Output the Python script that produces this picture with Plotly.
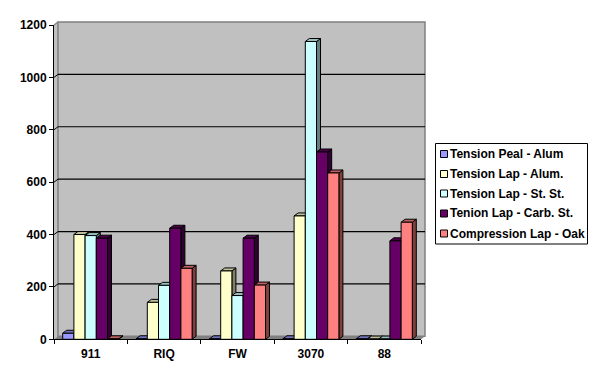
import plotly.graph_objects as go

categories = ["911", "RIQ", "FW", "3070", "88"]
series_names = ["Tension Peal - Alum", "Tension Lap - Alum.", "Tension Lap - St. St.",
                "Tenion Lap - Carb. St.", "Compression Lap - Oak"]
peal_alum = [23, 2, 2, 2, 2]
lap_alum = [400, 141, 261, 471, 1]
lap_stst = [396, 206, 167, 1137, 1]
lap_carb = [386, 424, 386, 715, 376]
comp_oak = [2, 271, 207, 635, 447]
series_values = [peal_alum, lap_alum, lap_stst, lap_carb, comp_oak]
front_colors = ["#9999FF", "#FFFFCC", "#CCFFFF", "#660066", "#FF8080"]
top_colors = ["#7373BF", "#BFBF99", "#99BFBF", "#4D004D", "#BF6060"]
side_colors = ["#4D4D80", "#808066", "#668080", "#330033", "#804040"]
tick_values = [0, 200, 400, 600, 800, 1000, 1200]

FONT = "Liberation Sans"
W, H = 600, 381
# pixel frame
PL, PR, PT, PB = 52, 427, 20, 342      # main (hidden) plot area
AX_L, AX_R, AX_T, AX_B = 54.0, 421.0, 25.0, 339.3  # front axes
CAT = (AX_R - AX_L) / 5
UY = 1200 / (AX_B - AX_T)
DX = 4 / CAT      # depth in x-units
DY = 3 * UY       # depth in y-units
BARGAP = 0.237
n = len(series_values)
BW = (1 - BARGAP) / n

x_of = lambda px: (px - AX_L) / CAT - 0.5
y_of = lambda py: (AX_B - py) * UY
LEFT, RIGHT = -0.5, 4.5


def poly(pts, fill, line="rgba(0,0,0,0)", lw=1):
    d = "M" + " L".join(f"{a:.4f},{b:.3f}" for a, b in pts) + " Z"
    return dict(type="path", path=d, xref="x", yref="y", fillcolor=fill, layer="between",
                line=dict(color=line, width=lw))


def seg(x0, y0, x1, y1, color, lw=1):
    return dict(type="line", x0=x0, y0=y0, x1=x1, y1=y1, xref="x", yref="y", layer="between",
                line=dict(color=color, width=lw))


shapes = []
TOPV = 1200
# side wall, back wall, floor
shapes.append(poly([(LEFT, 0), (LEFT + DX, DY), (LEFT + DX, TOPV + DY), (LEFT, TOPV)], "#C0C0C0"))
shapes.append(poly([(LEFT + DX, DY), (RIGHT + DX, DY), (RIGHT + DX, TOPV + DY), (LEFT + DX, TOPV + DY)],
                   "#C0C0C0", "#808080", 1.5))
shapes.append(poly([(LEFT, 0), (RIGHT, 0), (RIGHT + DX, DY), (LEFT + DX, DY)], "#808080"))
# gridlines on the wall
for v in tick_values[1:-1]:
    shapes.append(seg(LEFT, v, LEFT + DX, v + DY, "#000000"))
    shapes.append(seg(LEFT + DX, v + DY, RIGHT + DX, v + DY, "#000000", 1.2))
shapes.append(seg(LEFT, TOPV, LEFT + DX, TOPV + DY, "#808080", 1.2))
# bar depth faces, left to right so neighbours overlap correctly
for c in range(len(categories)):
    for s in range(n):
        v = series_values[s][c]
        l = c - (1 - BARGAP) / 2 + s * BW
        r = l + BW
        shapes.append(poly([(r, 0), (r + DX, DY), (r + DX, v + DY), (r, v)], side_colors[s], "#000000", 1))
        shapes.append(poly([(l, v), (l + DX, v + DY), (r + DX, v + DY), (r, v)], top_colors[s], "#000000", 1))

# hand-set legend in the reference's compact style
LG_L, LG_R, LG_T, LG_B = 435.5, 587.5, 143.5, 244.0
LEG_Y = [154, 174, 193.5, 213.5, 233.5]
px_x = lambda px: (px - PL) / (PR - PL)
px_y = lambda py: (PB - py) / (PB - PT)
annotations = []
shapes.append(dict(type="rect", xref="paper", yref="paper", x0=px_x(LG_L), x1=px_x(LG_R),
                   y0=px_y(LG_B), y1=px_y(LG_T), fillcolor="#FFFFFF",
                   line=dict(color="#000000", width=1), layer="above"))
for name, col, yy in zip(series_names, front_colors, LEG_Y):
    shapes.append(dict(type="rect", xref="paper", yref="paper", x0=px_x(440.5), x1=px_x(447.5),
                       y0=px_y(yy + 3.5), y1=px_y(yy - 3.5), fillcolor=col,
                       line=dict(color="#000000", width=1), layer="above"))
    annotations.append(dict(xref="paper", yref="paper", x=px_x(450), y=px_y(yy), xanchor="left",
                            yanchor="middle", text=f"<b>{name}</b>", showarrow=False, xshift=0,
                            font=dict(family=FONT, size=12, color="#000000"),
                            borderpad=0, borderwidth=0))

fig = go.Figure()
for s in range(n):
    fig.add_trace(go.Bar(x=list(range(len(categories))), y=series_values[s], name=series_names[s],
                         marker=dict(color=front_colors[s], line=dict(color="#000000", width=1)),
                         xaxis="x", yaxis="y", showlegend=False))
# frame axes (front edge of the 3-D box) carry the ticks and labels
fig.add_trace(go.Scatter(x=categories, y=[None] * len(categories), xaxis="x2", yaxis="y2",
                         showlegend=False, hoverinfo="skip", mode="markers"))

tfont = dict(family=FONT, size=12, color="#000000", weight="bold")
fig.update_layout(
    width=W, height=H, autosize=False, showlegend=False,
    margin=dict(l=PL, r=W - PR, t=PT, b=H - PB, pad=0),
    paper_bgcolor="#FFFFFF", plot_bgcolor="rgba(0,0,0,0)",
    barmode="group", bargap=BARGAP, bargroupgap=0,
    xaxis=dict(range=[x_of(PL), x_of(PR)], visible=False, domain=[0, 1]),
    yaxis=dict(range=[y_of(PB), y_of(PT)], visible=False, domain=[0, 1]),
    xaxis2=dict(type="category", categoryorder="array", categoryarray=categories, range=[-0.5, 4.5],
                domain=[px_x(AX_L), px_x(AX_R)], anchor="y2", showgrid=False, zeroline=False,
                showline=True, linecolor="#000000", linewidth=1, ticks="outside", ticklen=4,
                tickcolor="#000000", tickwidth=1, tickson="boundaries", tickfont=tfont,
                ticklabelstandoff=3),
    yaxis2=dict(range=[0, 1200], domain=[px_y(AX_B), px_y(AX_T)], anchor="x2", showgrid=False,
                zeroline=False, showline=True, linecolor="#000000", linewidth=1, ticks="outside",
                ticklen=4, tickcolor="#000000", tickwidth=1, tickvals=tick_values, tickfont=tfont),
    shapes=shapes, annotations=annotations,
)
fig.write_html("out.html", config=dict(displayModeBar=False),
               post_script="document.body.style.margin='0';document.body.style.overflow='hidden';")
